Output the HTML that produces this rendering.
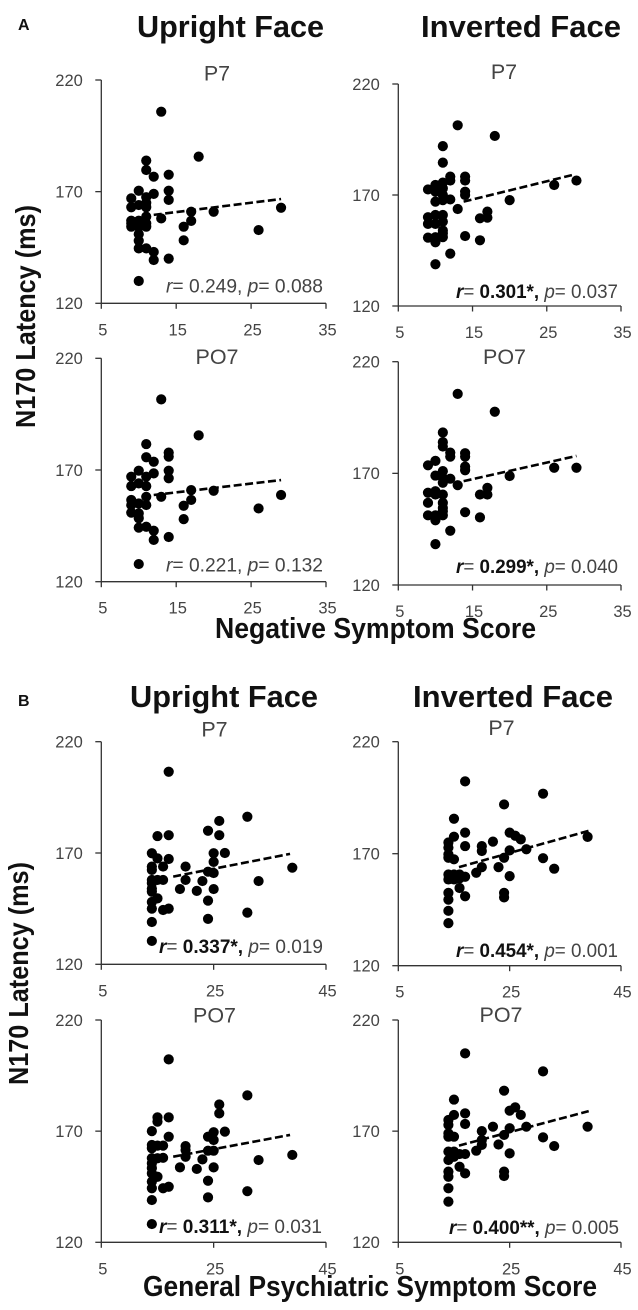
<!DOCTYPE html>
<html lang="en">
<head>
<meta charset="utf-8">
<title>N170 latency scatter plots</title>
<style>
html,body{margin:0;padding:0;background:#fff;}
svg{display:block;filter:blur(0.35px);}
text{font-family:"Liberation Sans",Arial,sans-serif;}
</style>
</head>
<body>
<svg id="figure" xmlns="http://www.w3.org/2000/svg" width="638" height="1310" viewBox="0 0 638 1310">
  <rect x="0" y="0" width="638" height="1310" fill="#fff"/>
  <text x="18" y="30" font-size="16" font-weight="bold" fill="#111">A</text>
  <text x="18" y="706" font-size="16" font-weight="bold" fill="#111">B</text>
  <text x="137" y="37" font-size="31" font-weight="bold" fill="#111" textLength="187" lengthAdjust="spacingAndGlyphs">Upright Face</text>
  <text x="421" y="37" font-size="31" font-weight="bold" fill="#111" textLength="200" lengthAdjust="spacingAndGlyphs">Inverted Face</text>
  <text x="130" y="707" font-size="31" font-weight="bold" fill="#111" textLength="188" lengthAdjust="spacingAndGlyphs">Upright Face</text>
  <text x="413" y="707" font-size="31" font-weight="bold" fill="#111" textLength="200" lengthAdjust="spacingAndGlyphs">Inverted Face</text>
  <text transform="translate(35,428) rotate(-90)" font-size="28" font-weight="bold" fill="#111" textLength="223" lengthAdjust="spacingAndGlyphs">N170 Latency (ms)</text>
  <text transform="translate(28,1085) rotate(-90)" font-size="28" font-weight="bold" fill="#111" textLength="223" lengthAdjust="spacingAndGlyphs">N170 Latency (ms)</text>
  <text x="215" y="638" font-size="29" font-weight="bold" fill="#111" textLength="321" lengthAdjust="spacingAndGlyphs">Negative Symptom Score</text>
  <text x="143" y="1296" font-size="29" font-weight="bold" fill="#111" textLength="454" lengthAdjust="spacingAndGlyphs">General Psychiatric Symptom Score</text>
</svg>
<script>
const yTickValues = [120, 170, 220];
const xTicksNegative = [5, 15, 25, 35];
const xTicksGeneral = [5, 25, 45];

const negUprightP7X = [13,18,11,11,12,14,14,14,10,12,9,9,11,11,11,10,11,11,9,9,9,10,10,11,10,10,10,11,12,12,14,13,17,17,16,16,20,26,29,10];
const negUprightP7Y = [205.8,185.7,183.9,179.7,176.7,177.6,170.4,166.3,170.4,169,167,163,167.5,165,163,164,158.8,155.8,157,155.8,154.3,157,154.3,154.3,151,148,144.6,144.6,143,139.4,140,158,161,156.9,154.3,148.2,161,152.8,162.8,130];
const negUprightP7TrendX = [12, 29];
const negUprightP7TrendY = [159.6, 166.7];

const negInvertedP7X = [13,18,11,11,12,12,14,14,14,14,9,10,10,11,11,11,11,10,12,13,10,9,9,10,11,11,11,9,10,10,11,11,14,16,12,10,16,17,17,20,26,29];
const negInvertedP7Y = [201.4,196.6,192,184.6,178.3,176.5,178.3,176.5,171.5,170,172.5,174.5,171.5,175.6,173,170,167.7,167,168,163.7,161,160,157,157,161,158,154,150.8,151,148.7,151,152.7,151.5,149.6,143.6,138.8,159.5,162.5,159.8,167.7,174.5,176.5];
const negInvertedP7TrendX = [13.8, 28.8];
const negInvertedP7TrendY = [167, 179.3];

const negUprightPO7X = [13,18,11,11,12,14,14,14,14,10,12,9,9,11,10,11,11,11,9,9,9,10,10,10,10,11,12,12,14,13,17,17,16,16,20,26,29,10];
const negUprightPO7Y = [201.6,185.5,181.6,175.7,173.7,177.8,176,169.7,166.3,169.7,168.5,167,162.8,167,164,162.8,158,154.3,156.6,154.3,150.9,155,150.6,148.4,144.2,144.6,142.8,138.7,140,158,161,156.6,154,148,160.7,152.8,158.8,127.9];
const negUprightPO7TrendX = [12, 29];
const negUprightPO7TrendY = [158.8, 165.5];

const negInvertedPO7X = [13,18,11,11,11,12,12,14,14,14,14,9,10,10,11,11,11,12,13,9,10,9,10,11,11,11,9,10,10,11,11,14,16,12,10,16,17,17,20,26,29];
const negInvertedPO7Y = [205.6,197.6,188.3,184,182,179.3,177.5,179,177.5,173,171.4,173.6,175.6,169,171,168,165.8,167.6,164.7,161.3,162,156.8,160.5,160.5,156.8,154.5,151.2,151.2,149,151.2,153,152.6,150.3,144.3,138.3,160.5,163.5,160.5,168.8,172.5,172.5];
const negInvertedPO7TrendX = [13.8, 29];
const negInvertedPO7TrendY = [166.5, 177.8];

const genUprightP7X = [17,14,14,14,14,14,14,14,14,14,14,14,15,15,15,15,16,16,16,17,17,17,20,20,19,22,23,24,24,24,24,25,25,25,25,26,26,27,31,31,33,39];
const genUprightP7Y = [206.5,169.9,163.9,162.4,157.9,156.4,154,152.6,148,145,139,130.5,177.6,167.6,157.9,149.6,163.9,157.9,144.4,178,167.3,145,163.9,157.9,153.8,153,157.4,180,161.6,148.6,140.4,169.9,166,161,153.8,184.4,178,170,186.3,143.2,157.4,163.4];
const genUprightP7TrendX = [17.8, 38.6];
const genUprightP7TrendY = [159.4, 169.6];

const genInvertedP7X = [17,31,24,15,17,25,26,27,15,14,14,14,14,17,20,20,22,25,28,24,31,39,15,20,19,23,33,25,14,14,15,15,16,17,16,14,14,14,14,16,17,24,24];
const genInvertedP7Y = [202.3,196.8,192,185.6,179.4,179.4,178,176.4,177.6,175,172.7,169.7,168.2,173.4,173.4,171.2,175.4,171.5,172,168.2,168,177.5,167.5,164,161.5,164,163.3,160,160.7,158.5,160.7,158.5,160.7,159.7,159,152.5,149.5,144.5,139,154.7,151,152.5,150.5];
const genInvertedP7TrendX = [15.9, 39.2];
const genInvertedP7TrendY = [164, 180.2];

const genUprightPO7X = [17,31,26,26,15,15,17,14,27,25,24,25,17,14,14,15,16,20,20,24,25,14,14,14,14,15,16,14,14,15,14,14,16,17,19,20,22,23,24,24,25,31,33,39];
const genUprightPO7Y = [202.3,186.1,182,178,176.2,174.3,176.2,170,169.8,169.5,167.5,166,167.5,163.8,162.3,163.5,163.5,163.3,161.5,161.2,161.2,157.8,155.5,153.3,151,157.8,158,147.3,144.3,149.5,139,128.2,144.3,145,153.7,158.5,153,157.3,147.7,140.2,153.7,143,157,159.3];
const genUprightPO7TrendX = [17.8, 38.6];
const genUprightPO7TrendY = [158.5, 168.3];

const genInvertedPO7X = [17,31,24,15,17,15,14,14,14,14,15,17,20,22,25,28,26,25,27,31,24,39,20,20,19,23,33,25,14,14,15,15,16,17,14,14,14,14,16,17,24,24];
const genInvertedPO7Y = [205,196.9,188.2,184.2,178,177.3,175,172.8,169,167.5,167.5,173.2,170,172,171.3,172,180.7,179.2,177.3,167.2,168.3,172,166,163.8,161.2,164,163.3,160,160.8,157,160.8,158.5,159.7,159.7,151.8,149.5,144.3,138.3,154,151,151.8,149.8];
const genInvertedPO7TrendX = [15.9, 39.2];
const genInvertedPO7TrendY = [163.5, 179];

const channelLabels = ["P7", "P7", "PO7", "PO7", "P7", "P7", "PO7", "PO7"];
const rValues = ["0.249", "0.301*,", "0.221", "0.299*,", "0.337*,", "0.454*,", "0.311*,", "0.400**,"];
const pValues = ["0.088", "0.037", "0.132", "0.040", "0.019", "0.001", "0.031", "0.005"];

const panels = [
  {id:"a-upright-p7", left:101.3, right:326, top:80, bottom:303.3, domain:[5,35], ticks:xTicksNegative, xs:negUprightP7X, ys:negUprightP7Y, tx:negUprightP7TrendX, ty:negUprightP7TrendY, cx:217, cb:80.5, sx:166, sw:157, sb:292.5},
  {id:"a-inverted-p7", left:398.3, right:621, top:84, bottom:306, domain:[5,35], ticks:xTicksNegative, xs:negInvertedP7X, ys:negInvertedP7Y, tx:negInvertedP7TrendX, ty:negInvertedP7TrendY, cx:504, cb:79, sx:456, sw:162, sb:298},
  {id:"a-upright-po7", left:101.3, right:326, top:358.3, bottom:581.7, domain:[5,35], ticks:xTicksNegative, xs:negUprightPO7X, ys:negUprightPO7Y, tx:negUprightPO7TrendX, ty:negUprightPO7TrendY, cx:217, cb:364, sx:166, sw:157, sb:571.7},
  {id:"a-inverted-po7", left:398.3, right:621, top:361.7, bottom:585, domain:[5,35], ticks:xTicksNegative, xs:negInvertedPO7X, ys:negInvertedPO7Y, tx:negInvertedPO7TrendX, ty:negInvertedPO7TrendY, cx:504.5, cb:364, sx:456, sw:162, sb:573},
  {id:"b-upright-p7", left:101.3, right:326, top:741.7, bottom:964.3, domain:[5,45], ticks:xTicksGeneral, xs:genUprightP7X, ys:genUprightP7Y, tx:genUprightP7TrendX, ty:genUprightP7TrendY, cx:214.5, cb:736.5, sx:159, sw:164, sb:953},
  {id:"b-inverted-p7", left:398.3, right:621, top:741.7, bottom:965.7, domain:[5,45], ticks:xTicksGeneral, xs:genInvertedP7X, ys:genInvertedP7Y, tx:genInvertedP7TrendX, ty:genInvertedP7TrendY, cx:501.5, cb:735, sx:456, sw:162, sb:957},
  {id:"b-upright-po7", left:101.3, right:326, top:1020, bottom:1242.3, domain:[5,45], ticks:xTicksGeneral, xs:genUprightPO7X, ys:genUprightPO7Y, tx:genUprightPO7TrendX, ty:genUprightPO7TrendY, cx:214.5, cb:1022.5, sx:159, sw:163, sb:1233},
  {id:"b-inverted-po7", left:398.3, right:621, top:1020, bottom:1242.3, domain:[5,45], ticks:xTicksGeneral, xs:genInvertedPO7X, ys:genInvertedPO7Y, tx:genInvertedPO7TrendX, ty:genInvertedPO7TrendY, cx:501, cb:1022, sx:449, sw:170, sb:1234}
];

const SVG_NS = "http://www.w3.org/2000/svg";
const figure = document.getElementById("figure");

function make(tag, attrs, parent) {
  const el = document.createElementNS(SVG_NS, tag);
  for (const k in attrs) el.setAttribute(k, attrs[k]);
  parent.appendChild(el);
  return el;
}

panels.forEach(function (p, i) {
  const xScale = function (v) { return p.left + (v - p.domain[0]) / (p.domain[1] - p.domain[0]) * (p.right - p.left); };
  const yScale = function (v) { return p.bottom - (v - 120) / 100 * (p.bottom - p.top); };

  const g = make("g", {}, figure);
  
  

  const yAxis = make("line", {x1:p.left, x2:p.left, y1:yScale(220), y2:yScale(120), stroke:"#333", "stroke-width":1.3}, g);
  
  

  const xAxis = make("line", {x1:p.left, x2:p.right, y1:p.bottom, y2:p.bottom, stroke:"#333", "stroke-width":1.3}, g);
  
  

  yTickValues.forEach(function (v) {
    const tick = make("line", {x1:p.left - 6, x2:p.left, y1:yScale(v), y2:yScale(v), stroke:"#333", "stroke-width":1.3}, g);
    
    
    const label = make("text", {x:p.left - 18.5, y:yScale(v) + 5.8, "text-anchor":"end", "font-size":16.5, fill:"#444"}, g);
    
    
    label.textContent = v;
  });

  p.ticks.forEach(function (v) {
    const tick = make("line", {x1:xScale(v), x2:xScale(v), y1:p.bottom, y2:p.bottom + 5.5, stroke:"#333", "stroke-width":1.3}, g);
    
    
    const label = make("text", {x:xScale(v) + 1.5, y:p.bottom + 32, "text-anchor":"middle", "font-size":16.5, fill:"#444"}, g);
    
    
    label.textContent = v;
  });

  const channel = make("text", {x:p.cx, y:p.cb, "text-anchor":"middle", "font-size":21.5, fill:"#444"}, g);
  
  
  channel.textContent = channelLabels[i];

  p.xs.forEach(function (xv, k) {
    const dot = make("circle", {cx:xScale(xv), cy:yScale(p.ys[k]), r:5.1, fill:"#000"}, g);
    
    
  });

  const trend = make("line", {x1:xScale(p.tx[0]), y1:yScale(p.ty[0]), x2:xScale(p.tx[1]), y2:yScale(p.ty[1]), stroke:"#000", "stroke-width":2.6, "stroke-dasharray":"8 3.5"}, g);
  
  

  const stat = make("text", {x:p.sx, y:p.sb, "font-size":19, fill:"#444", textLength:p.sw, lengthAdjust:"spacingAndGlyphs"}, g);
  
  
  const significant = rValues[i].indexOf("*") >= 0;
  const rPart = significant
    ? '<tspan font-weight="bold" fill="#111">' + rValues[i] + '</tspan>'
    : rValues[i] + ',';
  stat.innerHTML = '<tspan font-style="italic"' + (significant ? ' font-weight="bold" fill="#111"' : '') + '>r</tspan>= ' + rPart + ' <tspan font-style="italic">p</tspan>= ' + pValues[i];
});
</script>
</body>
</html>
